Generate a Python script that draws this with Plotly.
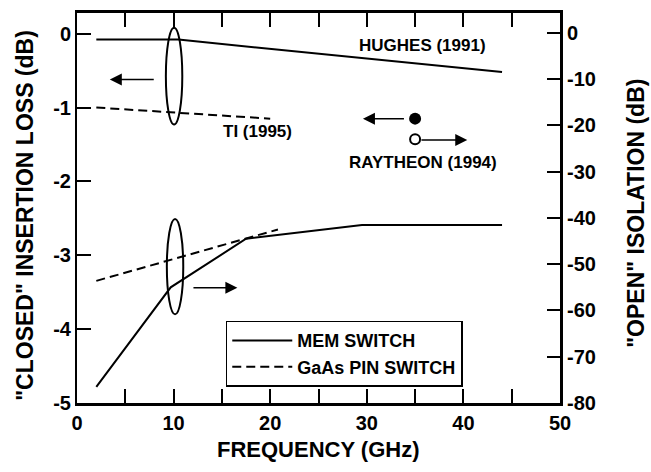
import plotly.graph_objects as go

# ---- data ----
hughes_x = [2, 10.5, 44]
hughes_loss = [-0.08, -0.08, -0.52]          # left axis (dB)
ti_x = [2, 20]
ti_loss = [-1.0, -1.15]                      # left axis (dB)
raytheon_x = [35]
raytheon_loss = [-1.15]                      # left axis
raytheon_iso = [-23]                         # right axis
mem_x = [2, 9.7, 17.5, 29.5, 44]
mem_iso = [-76.5, -55, -44.5, -41.5, -41.5]  # right axis
pin_x = [2, 20.8]
pin_iso = [-53.6, -42.5]                     # right axis

x_ticks = [0, 10, 20, 30, 40, 50]
left_ticks = [0, -1, -2, -3, -4, -5]
right_ticks = [0, -10, -20, -30, -40, -50, -60, -70, -80]

FONT = "Liberation Sans"
BLK = "black"

fig = go.Figure()
fig.add_trace(go.Scatter(x=hughes_x, y=hughes_loss, mode="lines", line=dict(color=BLK, width=2),
                         showlegend=False, yaxis="y"))
fig.add_trace(go.Scatter(x=ti_x, y=ti_loss, mode="lines", line=dict(color=BLK, width=2, dash="9px,5px"),
                         showlegend=False, yaxis="y"))
fig.add_trace(go.Scatter(x=raytheon_x, y=raytheon_loss, mode="markers",
                         marker=dict(color=BLK, size=12), showlegend=False, yaxis="y"))
fig.add_trace(go.Scatter(x=mem_x, y=mem_iso, mode="lines", line=dict(color=BLK, width=2),
                         name="<b>MEM SWITCH</b>", yaxis="y2"))
fig.add_trace(go.Scatter(x=pin_x, y=pin_iso, mode="lines", line=dict(color=BLK, width=2, dash="9px,5px"),
                         name="<b>GaAs PIN SWITCH</b>", yaxis="y2"))
fig.add_trace(go.Scatter(x=raytheon_x, y=raytheon_iso, mode="markers",
                         marker=dict(color="white", size=10, line=dict(color=BLK, width=2)),
                         showlegend=False, yaxis="y2"))

# ellipses (left axis coordinates)
for (x0, x1, y0, y1) in [(9.2, 10.9, -1.23, 0.08), (9.3, 11.0, -3.80, -2.51)]:
    fig.add_shape(type="circle", xref="x", yref="y", x0=x0, x1=x1, y0=y0, y1=y1,
                  line=dict(color=BLK, width=2))

# arrows: (tail_x, head_x, y)
arrows = [(8.1, 3.4, -0.62), (11.9, 16.6, -3.44), (34.0, 29.6, -1.15), (35.5, 40.4, -1.44)]
for tx, hx, yy in arrows:
    fig.add_annotation(x=hx, y=yy, ax=tx, ay=yy, xref="x", yref="y", axref="x", ayref="y",
                       showarrow=True, arrowhead=2, arrowsize=1.6, arrowwidth=1.5,
                       arrowcolor=BLK, text="")

labels = [("HUGHES (1991)", 35.8, -0.16), ("TI (1995)", 18.7, -1.32), ("RAYTHEON (1994)", 35.8, -1.75)]
for t, x, y in labels:
    fig.add_annotation(x=x, y=y, xref="x", yref="y", text=f"<b>{t}</b>", showarrow=False,
                       font=dict(family=FONT, size=17, color=BLK))

# axis titles
fig.add_annotation(xref="paper", yref="paper", x=0, y=0.48, xshift=-52, textangle=-90,
                   xanchor="center", yanchor="middle",
                   text="<b>\"CLOSED\" INSERTION LOSS (dB)</b>", showarrow=False,
                   font=dict(family=FONT, size=23, color=BLK))
fig.add_annotation(xref="paper", yref="paper", x=1, y=0.485, xshift=76, textangle=-90,
                   xanchor="center", yanchor="middle",
                   text="<b>\"OPEN\" ISOLATION (dB)</b>", showarrow=False,
                   font=dict(family=FONT, size=23, color=BLK))
fig.add_annotation(xref="paper", yref="paper", x=0.5, y=0, yshift=-46,
                   xanchor="center", yanchor="middle",
                   text="<b>FREQUENCY (GHz)</b>", showarrow=False,
                   font=dict(family=FONT, size=22, color=BLK))

tickfont = dict(family=FONT, size=20, color=BLK)
fig.update_layout(
    width=651, height=472,
    margin=dict(l=77, r=91, t=10, b=69),
    paper_bgcolor="white", plot_bgcolor="white",
    font=dict(family=FONT, color=BLK),
    xaxis=dict(range=[0, 50], tickvals=x_ticks, ticktext=[f"<b>{v}</b>" for v in x_ticks],
               ticks="inside", ticklen=14, tickwidth=2, tickcolor=BLK,
               minor=dict(dtick=5, ticks="inside", ticklen=10, tickwidth=2, tickcolor=BLK),
               showline=True, linewidth=2.5, linecolor=BLK, mirror="allticks",
               showgrid=False, zeroline=False, tickfont=tickfont),
    yaxis=dict(range=[-5.0, 0.28], tickvals=left_ticks, ticktext=[f"<b>{v}</b>" for v in left_ticks],
               ticks="inside", ticklen=14, tickwidth=2, tickcolor=BLK,
               showline=True, linewidth=2, linecolor=BLK,
               showgrid=False, zeroline=False, tickfont=tickfont),
    yaxis2=dict(range=[-80, 4.3], overlaying="y", side="right",
                tickvals=right_ticks, ticktext=[f"<b>{v}</b>" for v in right_ticks],
                ticks="inside", ticklen=13, tickwidth=2, tickcolor=BLK,
                showline=True, linewidth=3, linecolor=BLK,
                showgrid=False, zeroline=False, tickfont=tickfont),
    legend=dict(x=0.308, y=0.211, xanchor="left", yanchor="top",
                bgcolor="white", bordercolor=BLK, borderwidth=1.5,
                font=dict(family=FONT, size=18, color=BLK), itemwidth=60,
                tracegroupgap=0),
)

fig.write_html("out.html", config={"displayModeBar": False},
               post_script="document.body.style.margin='0px';")
